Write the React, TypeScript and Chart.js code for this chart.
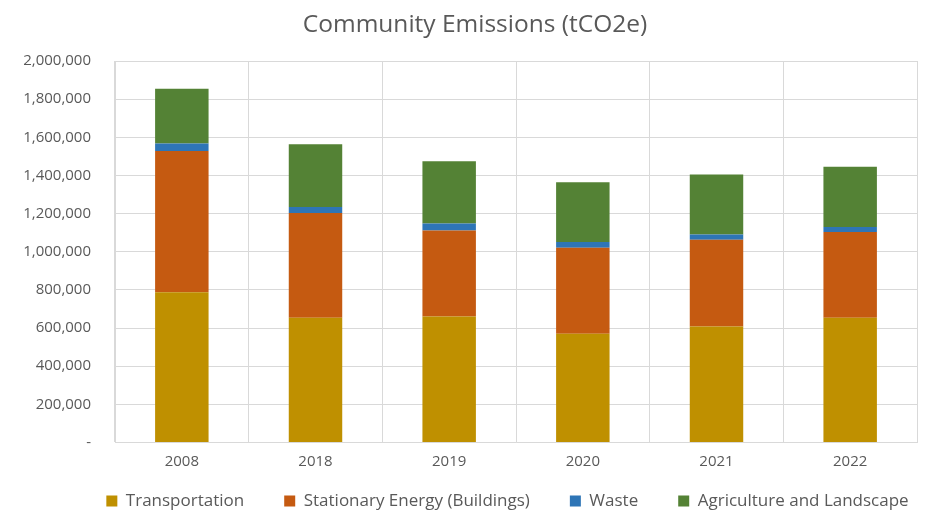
import React, { useEffect, useRef } from "react";
import { Chart, registerables } from "chart.js";

Chart.register(...registerables);

const categories = ["2008", "2018", "2019", "2020", "2021", "2022"];
const transportation = [788000, 654000, 660000, 570000, 608000, 654000];
const stationaryEnergy = [740000, 549000, 452000, 451000, 455000, 449000];
const waste = [40000, 32000, 36000, 30000, 28000, 27000];
const agriculture = [287000, 328000, 327000, 314000, 314000, 315000];
const seriesNames = [
  "Transportation",
  "Stationary Energy (Buildings)",
  "Waste",
  "Agriculture and Landscape",
];
const seriesColors = ["#BF9000", "#C55A11", "#2E75B6", "#548235"];
const titleText = "Community Emissions (tCO2e)";

const FONT = "'Open Sans', 'Noto Sans', sans-serif";
const LEGEND_PAD = 40;
const LEGEND_FONT = 17;

// Positions the legend and title boxes after Chart.js lays out the chart.
const layoutTweaks = {
  id: "layoutTweaks",
  beforeLayout(chart: any) {
    const lg = chart.legend;
    if (lg && !lg.__patched) {
      const origFit = lg.fit;
      lg.fit = function () {
        this.maxWidth = 2000;
        origFit.call(this);
        this.height = 48.5;
      };
      lg.__patched = true;
    }
  },
  afterLayout(chart: any) {
    const lg = chart.legend;
    if (lg) {
      // centre of legend row = (left + right) / 2 = 507.5
      lg.left = 98 - 300;
      lg.right = 917 + 300;
      lg.width = lg.right - lg.left;
      lg.top = 501 - LEGEND_PAD - LEGEND_FONT / 2;
      lg.bottom = 530;
      lg.height = lg.bottom - lg.top;
    }
    const t = chart.titleBlock;
    if (t) {
      t.left = 22;
      t.right = 928;
      t.width = t.right - t.left;
    }
  },
};

export default function App() {
  const ref = useRef<HTMLCanvasElement | null>(null);

  useEffect(() => {
    document.body.style.margin = "0";
    const canvas = ref.current;
    if (!canvas) return;
    const values = [transportation, stationaryEnergy, waste, agriculture];
    const chart = new Chart(canvas, {
      type: "bar",
      data: {
        labels: categories,
        datasets: values.map((d, i) => ({
          label: seriesNames[i],
          data: d,
          backgroundColor: seriesColors[i],
          borderWidth: 0,
          categoryPercentage: 1,
          barPercentage: 0.4,
        })),
      },
      plugins: [layoutTweaks],
      options: {
        animation: false,
        responsive: false,
        devicePixelRatio: 1,
        layout: { padding: { left: 0, right: 11, top: 0, bottom: 0 } },
        plugins: {
          title: {
            display: true,
            text: titleText,
            color: "#595959",
            font: { family: FONT, size: 24.5, weight: "normal" },
            padding: { top: 10, bottom: 21.6 },
          },
          legend: {
            position: "bottom",
            labels: {
              color: "#595959",
              font: { family: FONT, size: LEGEND_FONT },
              boxWidth: 11,
              boxHeight: 11,
              padding: LEGEND_PAD,
            },
          },
          tooltip: { enabled: false },
        },
        scales: {
          x: {
            stacked: true,
            grid: { color: "#D9D9D9", offset: true, drawTicks: false },
            border: { color: "#D9D9D9" },
            ticks: {
              color: "#595959",
              font: { family: FONT, size: 15 },
              padding: 10.5,
            },
          },
          y: {
            stacked: true,
            min: 0,
            max: 2000000,
            grid: { color: "#D9D9D9", drawTicks: false },
            border: { color: "#D9D9D9" },
            afterFit: (scale: any) => {
              scale.width = 115;
            },
            ticks: {
              stepSize: 200000,
              color: "#595959",
              font: { family: FONT, size: 15 },
              padding: 24,
              callback: (v: any) =>
                Number(v) === 0 ? "-" : Number(v).toLocaleString("en-US"),
            },
          },
        },
      },
    });
    return () => chart.destroy();
  }, []);

  return (
    <div style={{ width: 928, height: 530, background: "#fff" }}>
      <canvas ref={ref} width={928} height={530} />
    </div>
  );
}
